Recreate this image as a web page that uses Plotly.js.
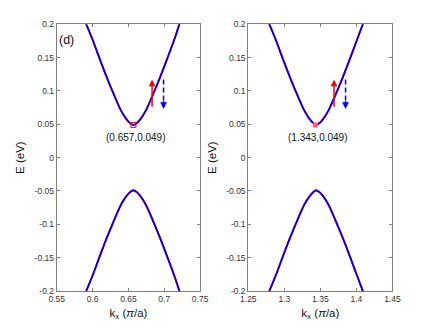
<!DOCTYPE html>
<html>
<head>
<meta charset="utf-8">
<script src="https://cdn.plot.ly/plotly-3.0.1.min.js"></script>
<style>
  html, body { margin: 0; padding: 0; background: #fff; }
  #plot { width: 436px; height: 327px; }
</style>
</head>
<body>
<div id="plot"></div>
<script>
// band data (E in eV, kx in pi/a)
const kLeft = [0.590, 0.600, 0.610, 0.620, 0.630, 0.640, 0.647, 0.652, 0.657, 0.662, 0.667, 0.674, 0.684, 0.694, 0.704, 0.714, 0.722];
const kRight = [1.278, 1.288, 1.298, 1.308, 1.318, 1.328, 1.335, 1.340, 1.344, 1.349, 1.354, 1.361, 1.371, 1.381, 1.391, 1.401, 1.410];
const eCond = [0.203, 0.177, 0.148, 0.120, 0.094, 0.070, 0.058, 0.052, 0.049, 0.052, 0.058, 0.070, 0.094, 0.120, 0.148, 0.177, 0.203];
const eVal = [-0.203, -0.177, -0.148, -0.120, -0.094, -0.070, -0.058, -0.052, -0.049, -0.052, -0.058, -0.070, -0.094, -0.120, -0.148, -0.177, -0.203];

// band-edge points and their labels
const minLeft = [0.657, 0.049];
const minRight = [1.343, 0.049];
const labelLeft = '(0.657,0.049)';
const labelRight = '(1.343,0.049)';

// spin arrows: [x, yTail, yHead]
const upLeft = [0.683, 0.074, 0.117];
const downLeft = [0.699, 0.117, 0.073];
const upRight = [1.369, 0.074, 0.117];
const downRight = [1.385, 0.117, 0.073];

const xTicksLeft = [0.55, 0.6, 0.65, 0.7, 0.75];
const xTicksRight = [1.25, 1.3, 1.35, 1.4, 1.45];
const yTicks = [-0.2, -0.15, -0.1, -0.05, 0, 0.05, 0.1, 0.15, 0.2];
const yTickText = ['-0.2', '-0.15', '-0.1', '-0.05', '0', '0.05', '0.1', '0.15', '0.2'];

const red = '#ff0000';
const blue = '#0000f0';

const band = (x, y, xa, ya, color, w) => ({
    x: x, y: y, xaxis: xa, yaxis: ya, type: 'scatter', mode: 'lines',
    line: {color: color, width: w, shape: 'spline'}, hoverinfo: 'skip', showlegend: false
});

const dashed = (a, xa, ya) => ({
    x: [a[0], a[0]], y: [a[1], a[2] + 0.008], xaxis: xa, yaxis: ya, type: 'scatter', mode: 'lines',
    line: {color: blue, width: 1.5, dash: '5px,3px'}, hoverinfo: 'skip', showlegend: false
});

const data = [
    band(kLeft, eCond, 'x', 'y', red, 1.9),
    band(kLeft, eVal, 'x', 'y', red, 1.9),
    band(kLeft, eCond, 'x', 'y', blue, 1.7),
    band(kLeft, eVal, 'x', 'y', blue, 1.7),
    band(kRight, eCond, 'x2', 'y2', red, 1.9),
    band(kRight, eVal, 'x2', 'y2', red, 1.9),
    band(kRight, eCond, 'x2', 'y2', blue, 1.7),
    band(kRight, eVal, 'x2', 'y2', blue, 1.7),
    {
        x: [minLeft[0]], y: [minLeft[1]], xaxis: 'x', yaxis: 'y', type: 'scatter', mode: 'markers',
        marker: {symbol: 'square-open', size: 5, color: red, line: {width: 1}}, showlegend: false
    },
    {
        x: [minRight[0]], y: [minRight[1]], xaxis: 'x2', yaxis: 'y2', type: 'scatter', mode: 'markers',
        marker: {symbol: 'square', size: 5, color: '#ff5a6e'}, showlegend: false
    },
    dashed(downLeft, 'x', 'y'),
    dashed(downRight, 'x2', 'y2')
];

const arrow = (a, xr, yr, color) => ({
    x: a[0], y: a[2], ax: a[0], ay: a[1], xref: xr, yref: yr, axref: xr, ayref: yr,
    text: '', showarrow: true, arrowhead: 2, arrowsize: 0.9, arrowwidth: 1.5, arrowcolor: color
});
const headOnly = (a, xr, yr) => ({
    x: a[0], y: a[2], ax: a[0], ay: a[2] + 0.014, xref: xr, yref: yr, axref: xr, ayref: yr,
    text: '', showarrow: true, arrowhead: 2, arrowsize: 0.9, arrowwidth: 1.5, arrowcolor: blue
});

const txtFont = {family: 'Liberation Sans, Arial, sans-serif', size: 10, color: '#111'};

const annotations = [
    arrow(upLeft, 'x', 'y', red),
    arrow(upRight, 'x2', 'y2', red),
    headOnly(downLeft, 'x', 'y'),
    headOnly(downRight, 'x2', 'y2'),
    {x: minLeft[0] + 0.004, y: 0.03, xref: 'x', yref: 'y', text: labelLeft, showarrow: false, font: txtFont},
    {x: minRight[0] + 0.004, y: 0.03, xref: 'x2', yref: 'y2', text: labelRight, showarrow: false, font: txtFont},
    {x: 0.5635, y: 0.177, xref: 'x', yref: 'y', text: '(d)', showarrow: false,
     font: {family: 'Liberation Sans, Arial, sans-serif', size: 12.5, color: '#111'}}
];

const tickFont = {family: 'Liberation Sans, Arial, sans-serif', size: 8.5, color: '#333'};
const titleFont = {family: 'Liberation Sans, Arial, sans-serif', size: 11.5, color: '#111'};

const xAxis = (dom, range, ticks) => ({
    domain: dom, range: range, tickvals: ticks, ticktext: ticks.map(String),
    ticks: 'inside', ticklen: 3, tickcolor: '#808080', mirror: 'ticks',
    showline: true, linecolor: '#808080', linewidth: 1, showgrid: false, zeroline: false,
    tickfont: tickFont,
    title: {text: 'k<sub>x</sub> (<i>π</i>/a)', font: titleFont, standoff: 5}
});
const yAxis = (anchor) => ({
    domain: [0.110, 0.926], range: [-0.2, 0.2], anchor: anchor,
    tickvals: yTicks, ticktext: yTickText,
    ticks: 'inside', ticklen: 3, tickcolor: '#808080', mirror: 'ticks',
    showline: true, linecolor: '#808080', linewidth: 1, showgrid: false, zeroline: false,
    tickfont: tickFont,
    title: {text: 'E (eV)', font: titleFont, standoff: 7}
});

const layout = {
    width: 436, height: 327,
    margin: {l: 0, r: 0, t: 0, b: 0},
    paper_bgcolor: '#fff', plot_bgcolor: '#fff',
    showlegend: false,
    xaxis: Object.assign(xAxis([0.130, 0.459], [0.55, 0.75], xTicksLeft), {anchor: 'y'}),
    yaxis: yAxis('x'),
    xaxis2: Object.assign(xAxis([0.5695, 0.900], [1.25, 1.45], xTicksRight), {anchor: 'y2'}),
    yaxis2: yAxis('x2'),
    annotations: annotations
};

Plotly.newPlot(document.getElementById('plot'), data, layout, {staticPlot: true});
</script>
</body>
</html>
